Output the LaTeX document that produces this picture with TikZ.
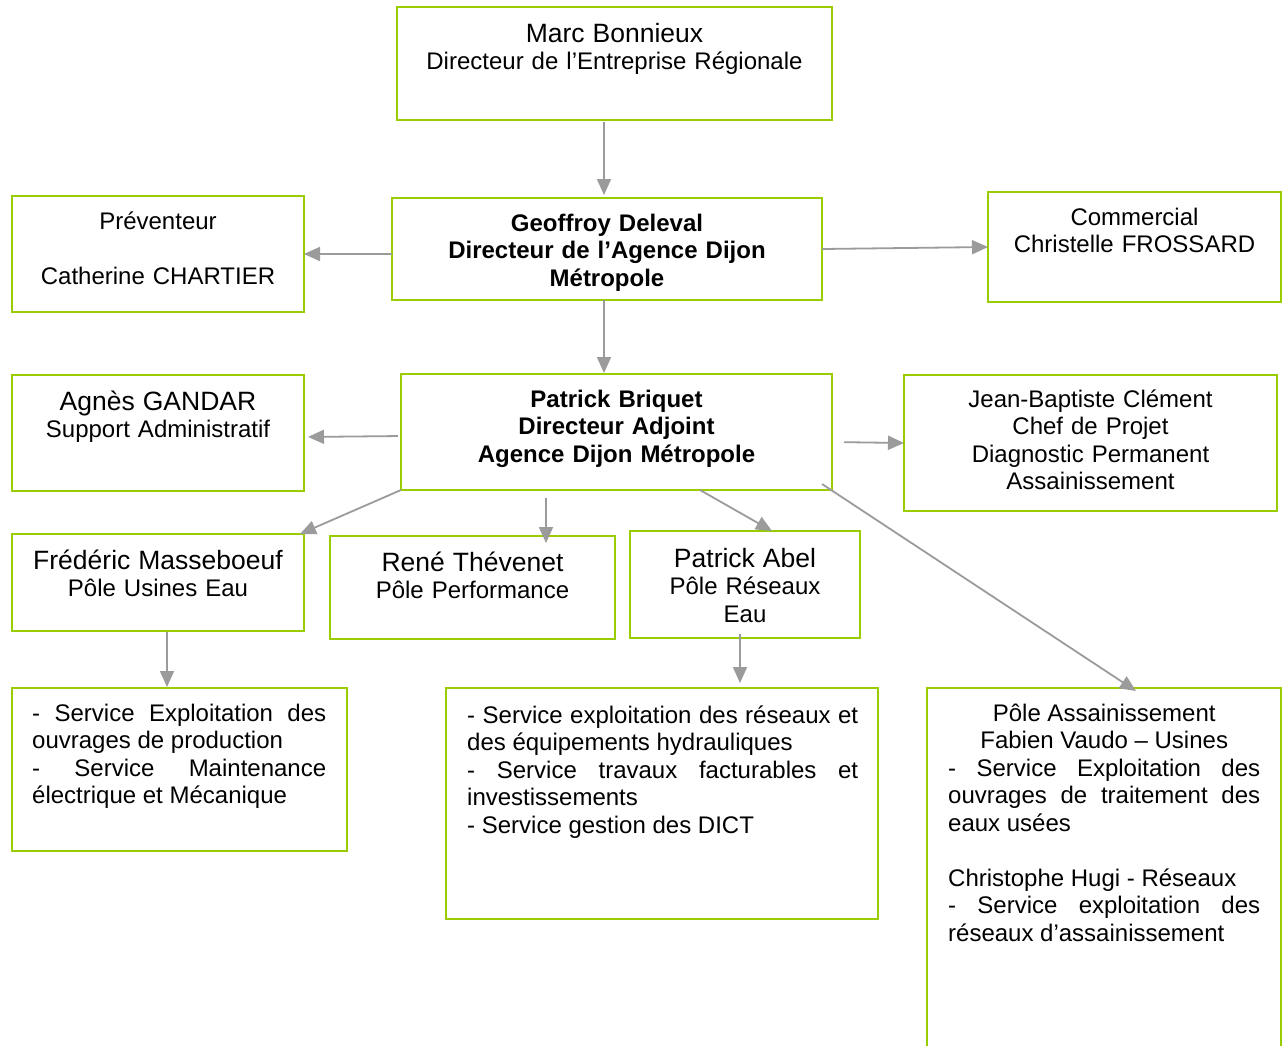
\documentclass[tikz,border=0pt]{standalone}
\usepackage{fontspec}
\setmainfont{Liberation Sans}
\usetikzlibrary{arrows.meta}
\definecolor{boxgreen}{RGB}{154,205,0}
\definecolor{linkgray}{RGB}{155,155,155}
\newcommand\bodysize{\fontsize{24}{27.5}\selectfont}
\newcommand\namesize{\fontsize{26.5}{27.5}\selectfont}
\tikzset{
  box/.style={draw=boxgreen, line width=2pt, anchor=north west, inner sep=0pt, outer sep=0pt},
  txt/.style={font=\bodysize, align=center, anchor=base, inner sep=0pt},
  jtxt/.style={font=\bodysize, align=justify, anchor=base west, inner sep=0pt},
  link/.style={draw=linkgray, line width=1.8pt, -{Triangle[length=16pt,width=14pt]}}
}
\begin{document}
\begin{tikzpicture}[x=1pt,y=-1pt]
\useasboundingbox (0,0) rectangle (1283,1045);

% frames
\node[box, minimum width=435, minimum height=113] (marc) at (397,7) {};
\node[box, minimum width=430, minimum height=102] (geoffroy) at (392,198) {};
\node[box, minimum width=292, minimum height=116] (prev) at (12,196) {};
\node[box, minimum width=293, minimum height=110] (comm) at (988,192) {};
\node[box, minimum width=431, minimum height=116] (briquet) at (401,374) {};
\node[box, minimum width=292, minimum height=116] (agnes) at (12,375) {};
\node[box, minimum width=373, minimum height=136] (jean) at (904,375) {};
\node[box, minimum width=292, minimum height=97] (fred) at (12,534) {};
\node[box, minimum width=285, minimum height=103] (rene) at (330,536) {};
\node[box, minimum width=230, minimum height=107] (abel) at (630,531) {};
\node[box, minimum width=335, minimum height=163] (svcA) at (12,688) {};
\node[box, minimum width=432, minimum height=231] (svcB) at (446,688) {};
\node[box, minimum width=354, minimum height=400] (assain) at (927,688) {};

% texts (baseline of the first line at the given point)
\node[txt, text width=435] (marcT) at (614.5,42) {\namesize Marc Bonnieux\\\bodysize Directeur de l’Entreprise Régionale};
\node[txt, text width=430, font=\bodysize\bfseries] (geoffroyT) at (607,231) {Geoffroy Deleval\\Directeur de l’Agence Dijon\\Métropole};
\node[txt, text width=292] (prevT) at (158,229) {Préventeur\\[27.5pt]Catherine CHARTIER};
\node[txt, text width=293] (commT) at (1134.5,225) {Commercial\\Christelle FROSSARD};
\node[txt, text width=431, font=\bodysize\bfseries] (briquetT) at (616.5,407) {Patrick Briquet\\Directeur Adjoint\\Agence Dijon Métropole};
\node[txt, text width=292] (agnesT) at (158,410) {\namesize Agnès GANDAR\\\bodysize Support Administratif};
\node[txt, text width=373] (jeanT) at (1090.5,407) {Jean-Baptiste Clément\\Chef de Projet\\Diagnostic Permanent\\Assainissement};
\node[txt, text width=292] (fredT) at (158,569) {\namesize Frédéric Masseboeuf\\\bodysize Pôle Usines Eau};
\node[txt, text width=285] (reneT) at (472.5,571) {\namesize René Thévenet\\\bodysize Pôle Performance};
\node[txt, text width=230] (abelT) at (745,567) {\namesize Patrick Abel\\\bodysize Pôle Réseaux\\Eau};
\node[jtxt, text width=294] (svcAT) at (32,721) {- Service Exploitation des\linebreak ouvrages de production\newline - Service Maintenance\linebreak électrique et Mécanique};
\node[jtxt, text width=391] (svcBT) at (467,723) {- Service exploitation des réseaux et\linebreak des équipements hydrauliques\newline - Service travaux facturables et\linebreak investissements\newline - Service gestion des DICT};
\node[jtxt, text width=312] (assainT) at (948,721) {{\centering Pôle Assainissement\\Fabien Vaudo – Usines\par}- Service Exploitation des\linebreak ouvrages de traitement des\linebreak eaux usées\par\mbox{}\par Christophe Hugi - Réseaux\newline - Service exploitation des\linebreak réseaux d’assainissement};

% connectors
\draw[link, shorten <=2pt, shorten >=3pt] ([xshift=-10.5]marc.south) -- ([xshift=-3]geoffroy.north);
\draw[link] (geoffroy.west |- prev.east) -- (prev.east);
\draw[link] (geoffroy.east) -- (comm.west);
\draw[link, shorten >=1pt] ([xshift=-3]geoffroy.south) -- ([xshift=-12.5]briquet.north);
\draw[link, shorten <=3pt, shorten >=4pt] ([yshift=-4]briquet.west) -- ([yshift=-4]agnes.east);
\draw[link, shorten <=12pt] ([yshift=-10]briquet.east) -- (jean.west);
\draw[link] (briquet.south west) -- ([xshift=-4]fred.north east);
\draw[link, shorten <=8pt] ([xshift=-70.5]briquet.south) -- ([xshift=73.5,yshift=-7]rene.north);
\draw[link] ([xshift=83.5]briquet.south) -- ([xshift=27]abel.north);
\draw[link] ([xshift=-10,yshift=6]briquet.south east) -- ([xshift=32,yshift=-3]assain.north);
\draw[link, shorten <=1pt, shorten >=1pt] ([xshift=9]fred.south) -- ([xshift=-12.5]svcA.north);
\draw[link, shorten <=-4pt] ([xshift=-5]abel.south) -- ([xshift=78,yshift=5]svcB.north);
\end{tikzpicture}
\end{document}
